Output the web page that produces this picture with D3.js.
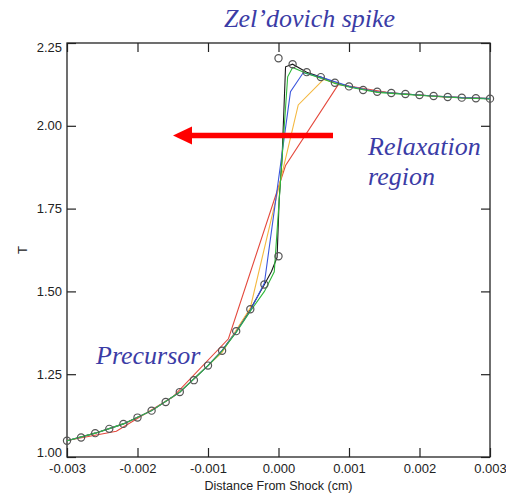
<!DOCTYPE html>
<html>
<head>
<meta charset="utf-8">
<script src="https://cdn.jsdelivr.net/npm/d3@7"></script>
<style>
  html, body { margin: 0; padding: 0; background: #fff; }
  svg { display: block; }
</style>
</head>
<body>
<svg id="chart" width="506" height="496"></svg>
<script>
// Temperature profile across a radiative shock: exact solution (circles)
// and numerical solutions at increasing resolution (red → black).

const xTicks = [-0.003, -0.002, -0.001, 0.000, 0.001, 0.002, 0.003];
const xTickLabels = ["-0.003", "-0.002", "-0.001", "0.000", "0.001", "0.002", "0.003"];
const yTicks = [1.00, 1.25, 1.50, 1.75, 2.00, 2.25];
const yTickLabels = ["1.00", "1.25", "1.50", "1.75", "2.00", "2.25"];

// exact (semi-analytic) solution
const exactX = [-0.0030, -0.0028, -0.0026, -0.0024, -0.0022, -0.0020, -0.0018, -0.0016,
                -0.0014, -0.0012, -0.0010, -0.0008, -0.0006, -0.0004, -0.0002, 0.0000,
                 0.0000,
                 0.0002, 0.0004, 0.0006, 0.0008, 0.0010, 0.0012, 0.0014, 0.0016,
                 0.0018, 0.0020, 0.0022, 0.0024, 0.0026, 0.0028, 0.0030];
const exactT = [1.049, 1.059, 1.072, 1.085, 1.100, 1.119, 1.140, 1.166,
                1.196, 1.232, 1.276, 1.321, 1.380, 1.446, 1.521, 1.606,
                2.204,
                2.186, 2.162, 2.147, 2.130, 2.119, 2.108, 2.103, 2.099,
                2.096, 2.093, 2.090, 2.087, 2.085, 2.083, 2.082];

// numerical runs, coarsest first
const redX = [-0.0031, -0.0023, -0.0015, -0.00071, 0.0001, 0.00085, 0.0016, 0.00235, 0.0031];
const redT = [1.046, 1.078, 1.181, 1.357, 1.880, 2.125, 2.099, 2.087, 2.081];

const orangeX = [-0.0030, -0.0026, -0.0022, -0.0018, -0.0014, -0.0010, -0.0008, -0.0004,
                  0.00028, 0.00064, 0.0010, 0.0014, 0.0018, 0.0022, 0.0026, 0.0030];
const orangeT = [1.049, 1.072, 1.100, 1.140, 1.196, 1.276, 1.316, 1.450,
                 2.063, 2.140, 2.119, 2.103, 2.096, 2.090, 2.085, 2.082];

const blueX = [-0.0030, -0.0026, -0.0022, -0.0018, -0.0014, -0.0010, -0.0008, -0.0006,
               -0.0004, -0.0002, 0.00017, 0.00035, 0.0006, 0.0010, 0.0014, 0.0018,
                0.0022, 0.0026, 0.0030];
const blueT = [1.049, 1.072, 1.100, 1.140, 1.196, 1.276, 1.321, 1.378,
               1.442, 1.525, 2.103, 2.160, 2.147, 2.119, 2.103, 2.096,
               2.090, 2.085, 2.082];

const greenX = [-0.0030, -0.0026, -0.0022, -0.0018, -0.0014, -0.0010, -0.0008, -0.0006,
                -0.0004, -0.0002, -0.00006, 0.00013, 0.0002, 0.0004, 0.0006, 0.0008,
                 0.0010, 0.0014, 0.0018, 0.0022, 0.0026, 0.0030];
const greenT = [1.049, 1.072, 1.100, 1.140, 1.196, 1.276, 1.320, 1.376,
                1.440, 1.500, 1.559, 2.148, 2.176, 2.158, 2.144, 2.128,
                2.117, 2.101, 2.095, 2.089, 2.084, 2.081];

const blackX = [-0.0030, -0.0026, -0.0022, -0.0018, -0.0014, -0.0010, -0.0008, -0.0006,
                -0.0004, -0.0002, -0.0001, -0.00002, 0.00001, 0.00005, 0.0001, 0.0002,
                 0.0004, 0.0006, 0.0008, 0.0010, 0.0014, 0.0018, 0.0022, 0.0026, 0.0030];
const blackT = [1.049, 1.072, 1.100, 1.140, 1.196, 1.276, 1.321, 1.380,
                1.446, 1.521, 1.560, 1.603, 1.780, 1.900, 2.178, 2.186,
                2.162, 2.147, 2.130, 2.119, 2.103, 2.096, 2.090, 2.085, 2.082];

const runs = [
  { name: "black",  x: blackX,  t: blackT,  color: "#1a1a1a" },
  { name: "red",    x: redX,    t: redT,    color: "#e4483c" },
  { name: "orange", x: orangeX, t: orangeT, color: "#f4b840" },
  { name: "blue",   x: blueX,   t: blueT,   color: "#3a55dc" },
  { name: "green",  x: greenX,  t: greenT,  color: "#2fb83a" }
];

const margin = { left: 67, top: 43, right: 16, bottom: 39 };
const W = 506, H = 496;
const iw = W - margin.left - margin.right;
const ih = H - margin.top - margin.bottom;

const svg = d3.select("#chart");
const g = svg.append("g").attr("transform", `translate(${margin.left},${margin.top})`);

const x = d3.scaleLinear().domain([-0.003, 0.003]).range([0, iw]);
const y = d3.scaleLinear().domain([1.0, 2.25]).range([ih, 0]);

svg.append("defs").append("clipPath").attr("id", "plotclip")
  .append("rect").attr("width", iw).attr("height", ih);

const axisFont = "'Liberation Sans', Arial, Helvetica, sans-serif";
const tickLen = 9;

function styleAxis(sel, showText) {
  sel.select(".domain").remove();
  sel.selectAll(".tick line").attr("stroke", "#222").attr("stroke-width", 1.2);
  sel.selectAll(".tick text")
    .attr("fill", "#222")
    .style("font-family", axisFont)
    .style("font-size", "13px")
    .style("display", showText ? null : "none");
}

g.append("g").attr("transform", `translate(0,${ih})`)
  .call(d3.axisBottom(x).tickValues(xTicks).tickFormat((d, i) => xTickLabels[i])
        .tickSizeInner(-tickLen).tickSizeOuter(0).tickPadding(7))
  .call(s => styleAxis(s, true));

g.append("g")
  .call(d3.axisTop(x).tickValues(xTicks).tickSizeInner(-tickLen).tickSizeOuter(0))
  .call(s => styleAxis(s, false));

const yAxisG = g.append("g")
  .call(d3.axisLeft(y).tickValues(yTicks).tickFormat((d, i) => yTickLabels[i])
        .tickSizeInner(-tickLen).tickSizeOuter(0).tickPadding(5))
  .call(s => styleAxis(s, true));
// keep the end labels inside the frame's height
yAxisG.selectAll(".tick text")
  .attr("y", d => d === 1.00 ? -5 : (d === 2.25 ? 4 : 0));

g.append("g").attr("transform", `translate(${iw},0)`)
  .call(d3.axisRight(y).tickValues(yTicks).tickSizeInner(-tickLen).tickSizeOuter(0))
  .call(s => styleAxis(s, false));

// frame
g.append("rect").attr("width", iw).attr("height", ih)
  .attr("fill", "none").attr("stroke", "#222").attr("stroke-width", 1.3);

// axis titles
svg.append("text")
  .attr("x", margin.left + x(0)).attr("y", 490)
  .attr("text-anchor", "middle")
  .style("font-family", axisFont).style("font-size", "12.5px").attr("fill", "#222")
  .text("Distance From Shock (cm)");

svg.append("text")
  .attr("transform", `translate(27,250) rotate(-90)`)
  .attr("text-anchor", "middle")
  .style("font-family", axisFont).style("font-size", "13px").attr("fill", "#222")
  .text("T");

// numerical profiles
const line = d3.line().x(d => x(d[0])).y(d => y(d[1]));
const plot = g.append("g").attr("clip-path", "url(#plotclip)");
runs.forEach(r => {
  plot.append("path")
    .datum(r.x.map((v, i) => [v, r.t[i]]))
    .attr("d", line)
    .attr("fill", "none")
    .attr("stroke", r.color)
    .attr("stroke-width", 1.1);
});

// exact solution markers
g.append("g").selectAll("circle")
  .data(exactX.map((v, i) => [v, exactT[i]]))
  .join("circle")
  .attr("cx", d => x(d[0])).attr("cy", d => y(d[1]))
  .attr("r", 3.6)
  .attr("fill", "none")
  .attr("stroke", "#555")
  .attr("stroke-width", 1.2);

// annotations
const noteFont = "'Liberation Serif', 'Times New Roman', serif";
const noteColor = "#3b3ca6";
const notes = [
  { text: "Zel\u2019dovich spike", x: 224, y: 27 },
  { text: "Relaxation", x: 368, y: 155 },
  { text: "region", x: 368, y: 185 },
  { text: "Precursor", x: 96, y: 364 }
];
svg.append("g").selectAll("text").data(notes).join("text")
  .attr("x", d => d.x).attr("y", d => d.y)
  .style("font-family", noteFont).style("font-style", "italic").style("font-size", "26px")
  .attr("fill", noteColor)
  .text(d => d.text);

// arrow pointing from the relaxation region back toward the precursor
svg.append("line")
  .attr("x1", 333).attr("y1", 135.5).attr("x2", 189).attr("y2", 135.5)
  .attr("stroke", "#ff0000").attr("stroke-width", 5.5);
svg.append("path")
  .attr("d", "M173,135.5 L192,126.5 L192,144.5 Z")
  .attr("fill", "#ff0000");
</script>
</body>
</html>
